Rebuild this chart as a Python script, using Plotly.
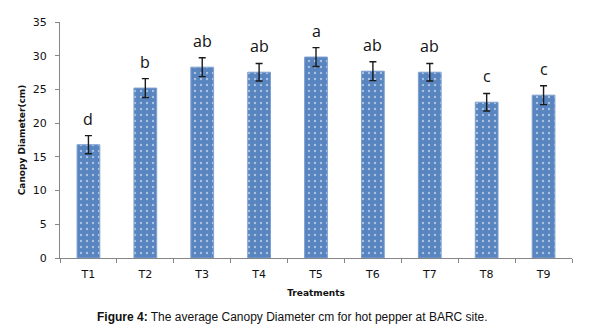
import plotly.graph_objects as go

treatments = ["T1", "T2", "T3", "T4", "T5", "T6", "T7", "T8", "T9"]
canopy_diameter = [16.8, 25.2, 28.3, 27.55, 29.8, 27.7, 27.55, 23.1, 24.15]
std_error = [1.35, 1.4, 1.4, 1.3, 1.4, 1.4, 1.3, 1.3, 1.4]
letters = ["d", "b", "ab", "ab", "a", "ab", "ab", "c", "c"]
y_ticks = [0, 5, 10, 15, 20, 25, 30, 35]

fig = go.Figure()
fig.add_trace(go.Bar(
    x=treatments, y=canopy_diameter,
    marker=dict(color="#5884C0",
                line=dict(color="#7FA0D0", width=1),
                pattern=dict(shape=".", fgcolor="white", bgcolor="#5884C0",
                             size=6, solidity=0.12, fillmode="overlay")),
    error_y=dict(type="data", array=std_error, visible=True,
                 color="#1a1a1a", thickness=1.4, width=3.5),
    width=0.4, showlegend=False,
))

for t, v, e, lab in zip(treatments, canopy_diameter, std_error, letters):
    fig.add_annotation(x=t, y=v + e, text=lab, showarrow=False,
                       yanchor="bottom", yshift=4,
                       font=dict(family="Open Sans", size=16, color="#111"))

fig.add_annotation(
    xref="paper", yref="paper", x=0.455, y=-0.25, xanchor="center", yanchor="middle",
    text="<b>Figure 4:</b> The average Canopy Diameter cm for hot pepper at BARC site.",
    showarrow=False, font=dict(family="Liberation Sans", size=12, color="#111"))

fig.update_layout(
    width=609, height=334,
    margin=dict(l=52, r=45, t=14, b=84, autoexpand=False),
    paper_bgcolor="white", plot_bgcolor="white",
    bargap=0.6,
    font=dict(family="DejaVu Sans", size=11, color="#111"),
    xaxis=dict(title=dict(text="<b>Treatments</b>", font=dict(size=9), standoff=9),
               automargin=False,
               showline=True, linecolor="#868686", linewidth=1,
               ticks="outside", tickson="boundaries", ticklen=4, tickcolor="#868686",
               ticklabelstandoff=6,
               showgrid=False),
    yaxis=dict(title=dict(text="<b>Canopy Diameter(cm)</b>", font=dict(size=9), standoff=5),
               automargin=False,
               range=[0, 35], tickvals=y_ticks,
               showline=True, linecolor="#868686", linewidth=1,
               ticks="outside", ticklen=4, tickcolor="#868686",
               ticklabelstandoff=6,
               showgrid=False, zeroline=False),
)

fig.write_html("out.html")
